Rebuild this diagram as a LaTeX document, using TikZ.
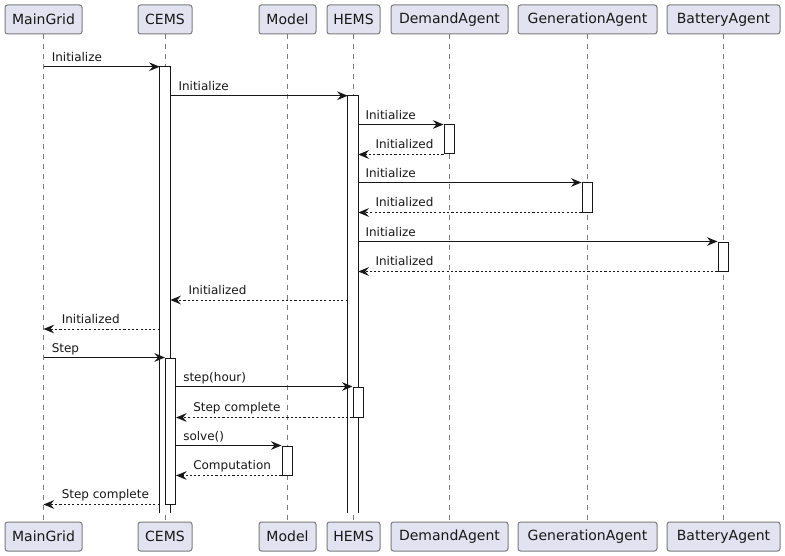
\documentclass[tikz,border=0pt]{standalone}
\usepackage{fontspec}
\setmainfont{DejaVu Sans}
\usetikzlibrary{arrows.meta}
\definecolor{ink}{HTML}{181818}
\definecolor{edge}{HTML}{7C7C7C}
\definecolor{partfill}{HTML}{E2E2F0}
\begin{document}
\begin{tikzpicture}[x=0.75pt,y=-0.75pt,
  part/.style={draw=edge,line width=0.75pt,fill=partfill,rounded corners=1.9pt,minimum height=21.75pt,inner sep=0pt,font=\fontsize{10.5}{12}\selectfont,text=ink},
  life/.style={draw=edge,line width=0.6pt,dash pattern=on 3.75pt off 3.75pt},
  act/.style={draw=ink,line width=0.75pt,fill=white,minimum width=7.5pt,inner sep=0pt},
  openact/.style={draw=none,fill=white,minimum width=7.5pt,inner sep=0pt},
  msg/.style={draw=ink,line width=0.75pt,-{Stealth[length=8pt,width=6.5pt,inset=2.8pt]}},
  ret/.style={msg,dash pattern=on 1.6pt off 1.6pt},
  lbl/.style={anchor=base west,inner sep=0pt,font=\fontsize{9}{11}\selectfont,text=ink}
]
\useasboundingbox (0,0) rectangle (785,556);
\fill[white] (0,0) rectangle (785,556);

% participants top
\node[part,minimum width=57.75pt] (mg) at (43.5,19.5) {MainGrid};
\node[part,minimum width=40.5pt] (cems) at (165,19.5) {CEMS};
\node[part,minimum width=42.75pt] (model) at (287.5,19.5) {Model};
\node[part,minimum width=39.75pt] (hems) at (353.5,19.5) {HEMS};
\node[part,minimum width=87.75pt] (demand) at (449.5,19.5) {DemandAgent};
\node[part,minimum width=104.25pt] (gen) at (587.5,19.5) {GenerationAgent};
\node[part,minimum width=84.75pt] (bat) at (723.5,19.5) {BatteryAgent};
% participants bottom
\node[part,minimum width=57.75pt] (mgb) at (43.5,536.5) {MainGrid};
\node[part,minimum width=40.5pt] (cemsb) at (165,536.5) {CEMS};
\node[part,minimum width=42.75pt] (modelb) at (287.5,536.5) {Model};
\node[part,minimum width=39.75pt] (hemsb) at (353.5,536.5) {HEMS};
\node[part,minimum width=87.75pt] (demandb) at (449.5,536.5) {DemandAgent};
\node[part,minimum width=104.25pt] (genb) at (587.5,536.5) {GenerationAgent};
\node[part,minimum width=84.75pt] (batb) at (723.5,536.5) {BatteryAgent};

% lifelines
\foreach \a/\b in {mg/mgb,cems/cemsb,model/modelb,hems/hemsb,demand/demandb,gen/genb,bat/batb}
  \draw[life] (\a.south) -- (\b.north);

% long activations (open at bottom)
\node[openact,minimum height=334.5pt] (cems1) at (165,290) {};
\draw[ink,line width=0.75pt] (cems1.south west) -- (cems1.north west) -- (cems1.north east) -- (cems1.south east);
\node[openact,minimum height=312.75pt] (hems1) at (353,304.5) {};
\draw[ink,line width=0.75pt] (hems1.south west) -- (hems1.north west) -- (hems1.north east) -- (hems1.south east);

% short activations
\node[act,minimum height=21.75pt] (dem1) at (449,139.5) {};
\node[act,minimum height=21.75pt] (gen1) at (587,197.5) {};
\node[act,minimum height=21.75pt] (bat1) at (723,256.5) {};
\node[act,minimum height=109.5pt] (cems2) at (170.5,431) {};
\node[act,minimum height=22.5pt] (hems2) at (358,402) {};
\node[act,minimum height=21.75pt] (model1) at (287,460.5) {};

% messages
\draw[msg] (mg.south |- cems1.north) -- (cems1.north west);
\path (mg.south |- cems1.north) ++(8,-5) node[lbl] {Initialize};

\draw[msg] (cems1.east |- hems1.north) -- (hems1.north west);
\path (cems1.east |- hems1.north) ++(8,-5) node[lbl] {Initialize};

\draw[msg] (hems1.east |- dem1.north) -- (dem1.north west);
\path (hems1.east |- dem1.north) ++(7,-5) node[lbl] {Initialize};
\draw[ret] (dem1.south west) -- (hems1.east |- dem1.south);
\path (hems1.east |- dem1.south) ++(17,-6) node[lbl] {Initialized};

\draw[msg] (hems1.east |- gen1.north) -- (gen1.north west);
\path (hems1.east |- gen1.north) ++(7,-5) node[lbl] {Initialize};
\draw[ret] (gen1.south west) -- (hems1.east |- gen1.south);
\path (hems1.east |- gen1.south) ++(17,-6) node[lbl] {Initialized};

\draw[msg] (hems1.east |- bat1.north) -- (bat1.north west);
\path (hems1.east |- bat1.north) ++(7,-5) node[lbl] {Initialize};
\draw[ret] (bat1.south west) -- (hems1.east |- bat1.south);
\path (hems1.east |- bat1.south) ++(17,-6) node[lbl] {Initialized};

\coordinate (r9) at (353,300);
\draw[ret] (hems1.west |- r9) -- (cems1.east |- r9);
\path (cems1.east |- r9) ++(18,-6) node[lbl] {Initialized};

\coordinate (r10) at (165,329);
\draw[ret] (cems1.west |- r10) -- (mg.south |- r10);
\path (mg.south |- r10) ++(18,-6) node[lbl] {Initialized};

\draw[msg] (mg.south |- cems2.north) -- (cems2.north west);
\path (mg.south |- cems2.north) ++(8,-5) node[lbl] {Step};

\draw[msg] (cems2.east |- hems2.north) -- (hems2.north west);
\path (cems2.east |- hems2.north) ++(7,-5) node[lbl] {step(hour)};
\draw[ret] (hems2.south west) -- (cems2.east |- hems2.south);
\path (cems2.east |- hems2.south) ++(17,-6) node[lbl] {Step complete};

\draw[msg] (cems2.east |- model1.north) -- (model1.north west);
\path (cems2.east |- model1.north) ++(7,-5) node[lbl] {solve()};
\draw[ret] (model1.south west) -- (cems2.east |- model1.south);
\path (cems2.east |- model1.south) ++(17,-6) node[lbl] {Computation};

\draw[ret] (cems1.west |- cems2.south) -- (mg.south |- cems2.south);
\path (mg.south |- cems2.south) ++(18,-6) node[lbl] {Step complete};
\end{tikzpicture}
\end{document}
